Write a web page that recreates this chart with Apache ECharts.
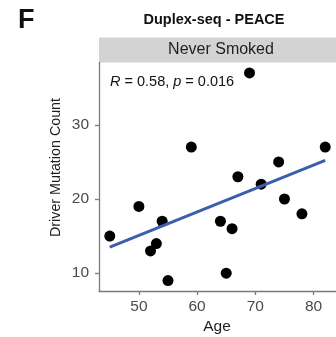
<!DOCTYPE html>
<html>
<head>
<meta charset="utf-8">
<script src="https://cdn.jsdelivr.net/npm/echarts@6/dist/echarts.min.js"></script>
<style>
  html, body { margin: 0; padding: 0; background: #fff; }
  #chart { width: 336px; height: 337px; }
</style>
</head>
<body>
<div id="chart"></div>
<script>
// ---- data ----
const ages =      [45, 50, 52, 53, 54, 55, 59, 64, 65, 66, 67, 69, 71, 74, 75, 78, 82];
const mutations = [15, 19, 13, 14, 17,  9, 27, 17, 10, 16, 23, 37, 22, 25, 20, 18, 27];
const xTicks = [50, 60, 70, 80];
const yTicks = [10, 20, 30];
const panelLabel = 'F';
const chartTitle = 'Duplex-seq - PEACE';
const stripLabel = 'Never Smoked';
const statR = '0.58';
const statP = '0.016';
const xTitle = 'Age';
const yTitle = 'Driver Mutation Count';

// ---- least-squares fit from the data ----
const n = ages.length;
const mx = ages.reduce((a, b) => a + b, 0) / n;
const my = mutations.reduce((a, b) => a + b, 0) / n;
let sxy = 0, sxx = 0;
for (let i = 0; i < n; i++) { sxy += (ages[i] - mx) * (mutations[i] - my); sxx += (ages[i] - mx) ** 2; }
const slope = sxy / sxx, icpt = my - slope * mx;
const xLo = Math.min(...ages), xHi = Math.max(...ages);
const yLo = Math.min(...mutations), yHi = Math.max(...mutations);
const fit = [[xLo, icpt + slope * xLo], [xHi, icpt + slope * xHi]];

// ggplot-style 5% expansion
const xPad = (xHi - xLo) * 0.05, yPad = (yHi - yLo) * 0.05;

const FONT = 'Liberation Sans, Arial, Helvetica, sans-serif';
const gridLeft = 99, gridTop = 62.5, gridW = 244, gridH = 228.5;
const axisColor = '#7a7a7a';

const chart = echarts.init(document.getElementById('chart'), null, { renderer: 'canvas' });
chart.setOption({
  backgroundColor: '#ffffff',
  animation: false,
  grid: { left: gridLeft, top: gridTop, width: gridW, height: gridH },
  xAxis: {
    type: 'value',
    min: xLo - xPad, max: xHi + xPad,
    axisLine: { show: true, lineStyle: { color: axisColor, width: 1.3 } },
    axisTick: { show: true, length: 4, customValues: xTicks, lineStyle: { color: axisColor, width: 1.3 } },
    axisLabel: { customValues: xTicks, fontSize: 15.5, color: '#4a4a4a', margin: 8, fontFamily: FONT },
    splitLine: { show: false }
  },
  yAxis: {
    type: 'value',
    min: yLo - yPad, max: yHi + yPad,
    axisLine: { show: true, lineStyle: { color: axisColor, width: 1.3 } },
    axisTick: { show: true, length: 4, customValues: yTicks, lineStyle: { color: axisColor, width: 1.3 } },
    axisLabel: { customValues: yTicks, fontSize: 15.5, color: '#4a4a4a', margin: 10, fontFamily: FONT },
    splitLine: { show: false }
  },
  graphic: [
    { type: 'text', left: 18, top: 7, style: { text: panelLabel, font: 'bold 27px ' + FONT, fill: '#111' } },
    { type: 'text', x: 214, y: 20, style: { text: chartTitle, font: 'bold 14.5px ' + FONT, fill: '#111', align: 'center', verticalAlign: 'middle' } },
    { type: 'rect', shape: { x: gridLeft, y: 37.5, width: gridW, height: 25 }, style: { fill: '#d3d3d3' } },
    { type: 'text', x: 221, y: 50, style: { text: stripLabel, font: '16px ' + FONT, fill: '#1e1e1e', align: 'center', verticalAlign: 'middle' } },
    { type: 'text', x: 217, y: 327, style: { text: xTitle, font: '15.5px ' + FONT, fill: '#1e1e1e', align: 'center', verticalAlign: 'middle' } },
    { type: 'text', x: 56, y: 167.5, rotation: Math.PI / 2, style: { text: yTitle, font: '14.3px ' + FONT, fill: '#1e1e1e', align: 'center', verticalAlign: 'middle' } },
    { type: 'text', x: 110, y: 82, z: 10, style: {
        text: '{i|R} = ' + statR + ', {i|p} = ' + statP,
        font: '14.5px ' + FONT, fill: '#111', verticalAlign: 'middle',
        rich: { i: { fontStyle: 'italic', fontSize: 14.5, fontFamily: FONT, fill: '#111' } }
      } }
  ],
  series: [
    {
      type: 'scatter',
      data: ages.map((a, i) => [a, mutations[i]]),
      symbolSize: 11,
      itemStyle: { color: '#000000', opacity: 1 },
      z: 2
    },
    {
      type: 'line',
      data: fit,
      showSymbol: false,
      symbol: 'none',
      lineStyle: { color: '#3d5fab', width: 3 },
      z: 3
    }
  ]
});
</script>
</body>
</html>
